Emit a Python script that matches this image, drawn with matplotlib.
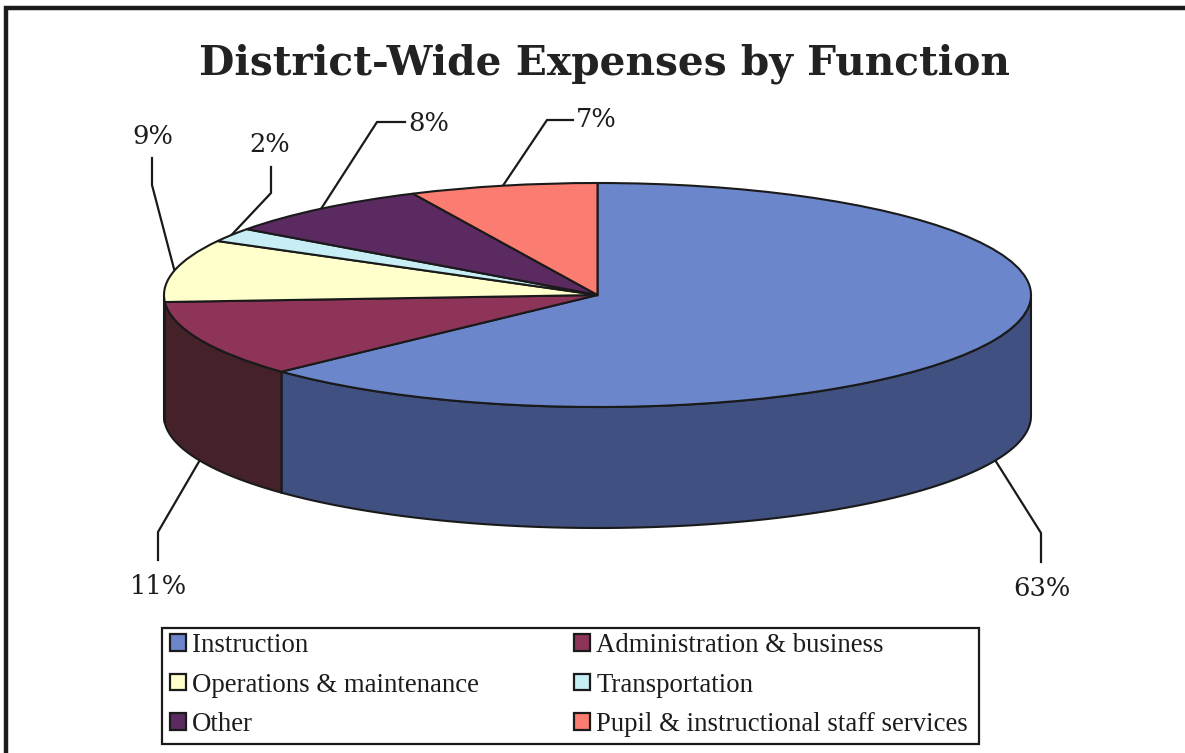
import numpy as np
import matplotlib.pyplot as plt
from matplotlib.patches import Patch, Polygon, Rectangle

W, H = 1185, 753

# Parts du budget par fonction
categories = ['Instruction', 'Administration & business', 'Operations & maintenance',
              'Transportation', 'Other', 'Pupil & instructional staff services']
valeurs = [63, 11, 9, 2, 8, 7]
couleurs = ['#6b86cb', '#8e3459', '#ffffcb', '#c6eef4', '#5a2a60', '#fb7c70']
couleurs_bord = ['#3f5081', '#452229', '#8f8f70', '#70868a', '#32183a', '#8d4640']

# Position de l'ellipse en pixels
cx, cy, a, b = 597.5, 295, 433.5, 112
epaisseur = 121 / b  # hauteur du bord, en rayons

# Coudes des traits de rappel en pixels : (coude, fin du trait, texte)
rappels = [
    ((1041, 533), (1041, 562), (1042, 589)),
    ((158, 532), (158, 560), (158, 586)),
    ((152, 185), (152, 158), (153, 136)),
    ((271, 193), (271, 167), (270, 144)),
    ((377, 122), (405, 122), (429, 123)),
    ((547, 120), (573, 120), (596, 119)),
]

fig = plt.figure(figsize=(W / 100, H / 100), dpi=100, facecolor='white')

fond = fig.add_axes([0, 0, 1, 1])
fond.set_xlim(0, W)
fond.set_ylim(H, 0)
fond.axis('off')

# Cadre : seulement le haut et la gauche
fond.plot([6, 6, W], [H, 8, 8], color='#1c1c1c', lw=3.2, solid_joinstyle='miter')
fond.text(604, 64, 'District-Wide Expenses by Function', family='DejaVu Serif', weight='bold',
          fontsize=29.3, color='#222222', ha='center', va='center')

# Le camembert est aplati en laissant un aspect libre sur ses axes
ax = fig.add_axes([(cx - a) / W, 1 - (cy + b) / H, 2 * a / W, 2 * b / H], zorder=2)
wedges, _ = ax.pie(valeurs, colors=couleurs, startangle=90, counterclock=False, radius=1,
                   wedgeprops={'edgecolor': '#1a1a1a', 'linewidth': 1.5})
ax.set_aspect('auto')
ax.set_xlim(-1, 1)
ax.set_ylim(-1, 1)

# Bord du disque : seule la moitié avant est visible (180 a 360 degres)
for w, c in zip(wedges, couleurs_bord):
    t1, t2 = w.theta1 % 360, w.theta2 % 360
    if t2 <= t1:
        t2 += 360
    for decal in (0, 360, -360):
        d, f = max(t1 + decal, 180), min(t2 + decal, 360)
        if f > d:
            t = np.radians(np.linspace(d, f, 100))
            x, y = np.cos(t), np.sin(t)
            pts = np.r_[np.c_[x, y], np.c_[x[::-1], y[::-1] - epaisseur]]
            p = Polygon(pts, closed=True, fc=c, ec='#1a1a1a', lw=1.5, zorder=0.5, clip_on=False)
            ax.add_patch(p)

# Traits de rappel, accroches au milieu de chaque part
for w, v, (coude, fin, txt) in zip(wedges, valeurs, rappels):
    t = np.radians((w.theta1 + w.theta2) / 2)
    px, py = cx + a * np.cos(t), cy - b * np.sin(t)
    if np.sin(t) < 0:
        py += 121
    fond.plot([px, coude[0], fin[0]], [py, coude[1], fin[1]], color='#1a1a1a', lw=1.6, zorder=5)
    fond.text(txt[0], txt[1], '{}%'.format(v), family='DejaVu Serif', fontsize=18.5, color='#1c1c1c',
              ha='center', va='center', zorder=5)

# Legende sur deux colonnes, remplie colonne par colonne
fond.add_patch(Rectangle((162, 628), 817, 116, fc='white', ec='#1a1a1a', lw=1.6))
ordre = [0, 2, 4, 1, 3, 5]
handles = [Patch(fc=couleurs[i], ec='#1a1a1a', lw=1.6) for i in ordre]
leg = fond.legend(handles, [categories[i] for i in ordre], ncol=2, mode='expand',
                  bbox_to_anchor=(170 / W, 1 - 685 / H, 798 / W, 0), loc='center left',
                  bbox_transform=fig.transFigure, frameon=False,
                  prop={'family': 'Liberation Serif', 'size': 19.3},
                  handlelength=0.58, handleheight=0.58, handletextpad=0.25, labelspacing=0.54,
                  borderpad=0, borderaxespad=0)
for t in leg.get_texts():
    t.set_color('#1c1c1c')

fig.savefig('out.png', dpi=100)
